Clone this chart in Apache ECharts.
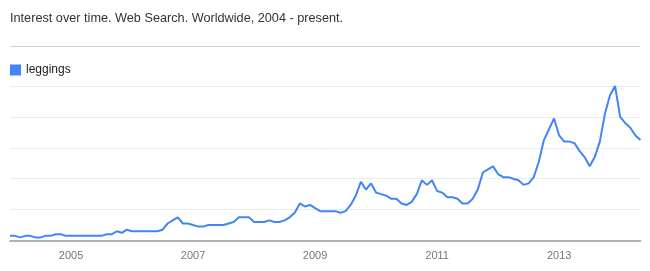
<!DOCTYPE html>
<html>
<head>
<meta charset="utf-8">
<script src="https://cdn.jsdelivr.net/npm/echarts@6/dist/echarts.min.js"></script>
<style>
html,body{margin:0;padding:0;background:#fff;}
#chart{width:650px;height:271px;}
</style>
</head>
<body>
<div id="chart"></div>
<script>
// Monthly index, Jan 2004 .. May 2014
var startYear = 2004;
var seriesName = 'leggings';
var values = [
  3, 3, 2, 3, 3, 2, 2, 3, 3, 4, 4, 3,
  3, 3, 3, 3, 3, 3, 3, 4, 4, 6, 5, 7,
  6, 6, 6, 6, 6, 6, 7, 11, 13, 15, 11, 11,
  10, 9, 9, 10, 10, 10, 10, 11, 12, 15, 15, 15,
  12, 12, 12, 13, 12, 12, 13, 15, 18, 24, 22, 23,
  21, 19, 19, 19, 19, 18, 19, 23, 29, 38, 33, 37,
  31, 30, 29, 27, 27, 24, 23, 25, 30, 39, 36, 39,
  32, 31, 28, 28, 27, 24, 24, 27, 33, 44, 46, 48,
  43, 41, 41, 40, 39, 36, 37, 41, 51, 65, 72, 79,
  68, 64, 64, 63, 58, 54, 48, 54, 64, 82, 94, 100,
  80, 76, 73, 68, 65
];
var tickYears = ['2005', '2007', '2009', '2011', '2013'];
var titleText = 'Interest over time. Web Search. Worldwide, 2004 - present.';

var categories = [];
for (var i = 0; i < values.length; i++) {
  var y = startYear + Math.floor(i / 12);
  var m = (i % 12) + 1;
  categories.push(y + '-' + (m < 10 ? '0' + m : m));
}

var chart = echarts.init(document.getElementById('chart'), null, {renderer: 'canvas'});
var blue = '#4285f4';
chart.setOption({
  animation: false,
  backgroundColor: '#fff',
  title: {
    text: titleText,
    left: 10, top: 11.5, padding: 0,
    textStyle: {fontFamily: 'Liberation Sans, Arial, sans-serif', fontSize: 12.7, fontWeight: 'normal', color: '#333'}
  },
  graphic: [{
    type: 'line', silent: true,
    shape: {x1: 10, y1: 46.5, x2: 640, y2: 46.5},
    style: {stroke: '#d0d0d0', lineWidth: 1}
  }],
  legend: {
    data: [seriesName],
    left: 10, top: 64, padding: 0,
    icon: 'rect', itemWidth: 11, itemHeight: 11,
    textStyle: {fontFamily: 'Liberation Sans, Arial, sans-serif', fontSize: 12, color: '#222'}
  },
  grid: {left: 10, right: 9.5, top: 86, bottom: 30.5, containLabel: false},
  xAxis: {
    type: 'category',
    data: categories,
    boundaryGap: false,
    axisTick: {show: false},
    axisLine: {show: true, lineStyle: {color: '#9a9a9a', width: 1.5}},
    splitLine: {show: false},
    axisLabel: {
      interval: function (idx, val) {
        return val.slice(5) === '01' && tickYears.indexOf(val.slice(0, 4)) >= 0;
      },
      formatter: function (val) { return val.slice(0, 4); },
      margin: 10,
      color: '#777',
      fontFamily: 'Liberation Sans, Arial, sans-serif',
      fontSize: 11
    }
  },
  yAxis: {
    type: 'value', min: 0, max: 100, interval: 20,
    axisLine: {show: false}, axisTick: {show: false},
    axisLabel: {show: false},
    splitLine: {lineStyle: {color: '#ebebeb', width: 1}}
  },
  series: [{
    name: seriesName,
    type: 'line',
    data: values,
    showSymbol: false,
    symbol: 'none',
    lineStyle: {color: blue, width: 2},
    itemStyle: {color: blue}
  }]
});
</script>
</body>
</html>
